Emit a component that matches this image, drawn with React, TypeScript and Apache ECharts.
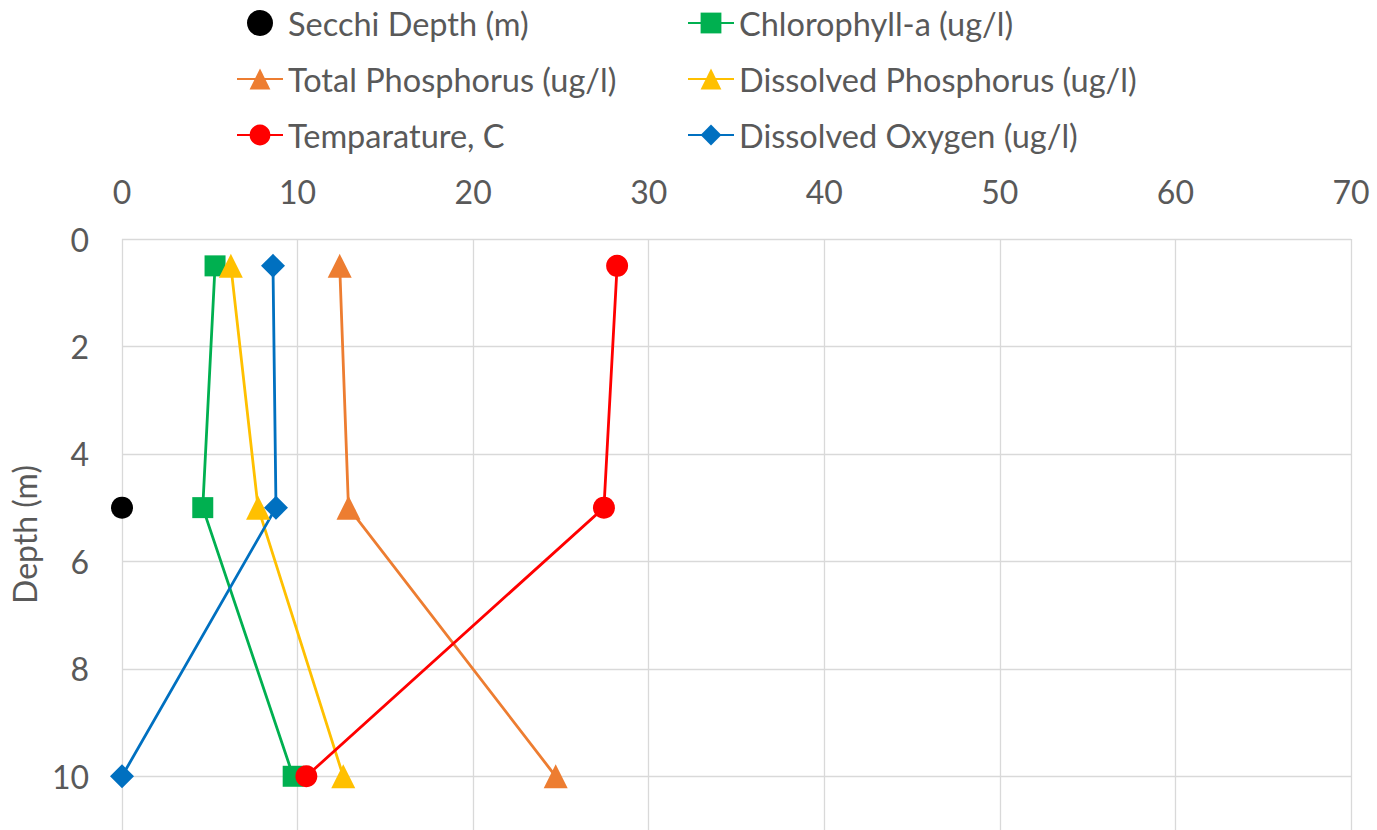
import React, { useEffect, useRef } from "react";
import * as echarts from "echarts";

// Sampling depths (m) for the profile
const depths = [0.5, 5, 10];

// Measured values at each depth
const chlorophyll = [5.3, 4.6, 9.75];
const totalPhosphorus = [12.4, 12.9, 24.7];
const dissolvedPhosphorus = [6.2, 7.75, 12.6];
const temperature = [28.2, 27.45, 10.5];
const dissolvedOxygen = [8.6, 8.77, 0.0];

// Secchi disk reading: a single point
const secchiValue = [0];
const secchiDepth = [5];

const leftLegend = ["Secchi Depth (m)", "Total Phosphorus (ug/l)", "Temparature, C"];
const rightLegend = ["Chlorophyll-a (ug/l)", "Dissolved Phosphorus (ug/l)", "Dissolved Oxygen (ug/l)"];

const FONT = "Lato, 'Open Sans', sans-serif";
const TEXT = "#595959";
const GRID_LINE = "#D9D9D9";

const pair = (vals: number[], ds: number[]) => vals.map((v, i) => [v, ds[i]]);

const lineSeries = (name: string, vals: number[], color: string, symbol: string, size: number) => ({
  name,
  type: "line",
  data: pair(vals, depths),
  symbol,
  symbolSize: size,
  itemStyle: { color },
  lineStyle: { color, width: 2.8 },
});

export default function App() {
  const ref = useRef<HTMLDivElement>(null);

  useEffect(() => {
    if (!ref.current) return;
    const chart = echarts.init(ref.current, undefined, { renderer: "svg" });
    const legendCommon = {
      orient: "vertical",
      top: 0,
      itemWidth: 46,
      itemHeight: 26,
      itemGap: 20,
      textStyle: { fontFamily: FONT, fontSize: 32.5, color: TEXT, lineHeight: 36 },
    };
    chart.setOption({
      animation: false,
      backgroundColor: "#ffffff",
      legend: [
        { ...legendCommon, left: 231, data: leftLegend },
        { ...legendCommon, left: 682, data: rightLegend },
      ],
      grid: { left: 122, right: 26, top: 239, bottom: 0, outerBoundsMode: "none" },
      xAxis: {
        type: "value",
        position: "top",
        min: 0,
        max: 70,
        interval: 10,
        axisLine: { show: false },
        axisTick: { show: false },
        axisLabel: { fontFamily: FONT, fontSize: 32, color: TEXT, margin: 32 },
        splitLine: { show: true, lineStyle: { color: GRID_LINE, width: 1.3 } },
      },
      yAxis: {
        type: "value",
        inverse: true,
        min: 0,
        max: 11,
        interval: 2,
        name: "Depth (m)",
        nameLocation: "middle",
        nameGap: 82,
        nameTextStyle: { fontFamily: FONT, fontSize: 32, color: TEXT },
        axisLine: { show: false },
        axisTick: { show: false },
        axisLabel: { fontFamily: FONT, fontSize: 32, color: TEXT, margin: 33, showMaxLabel: false },
        splitLine: { show: true, showMaxLine: false, lineStyle: { color: GRID_LINE, width: 1.3 } },
      },
      series: [
        {
          name: "Secchi Depth (m)",
          type: "scatter",
          data: pair(secchiValue, secchiDepth),
          symbol: "circle",
          symbolSize: 22,
          itemStyle: { color: "#000000", opacity: 1 },
        },
        lineSeries("Chlorophyll-a (ug/l)", chlorophyll, "#00B050", "rect", 21),
        lineSeries("Total Phosphorus (ug/l)", totalPhosphorus, "#ED7D31", "triangle", 24),
        lineSeries("Dissolved Phosphorus (ug/l)", dissolvedPhosphorus, "#FFC000", "triangle", 24),
        lineSeries("Temparature, C", temperature, "#FF0000", "circle", 22),
        lineSeries("Dissolved Oxygen (ug/l)", dissolvedOxygen, "#0070C0", "diamond", 24),
      ],
    });
    return () => chart.dispose();
  }, []);

  return (
    <div style={{ position: "fixed", left: 0, top: 0, width: 1377, height: 830, overflow: "hidden", background: "#fff" }}>
      <div ref={ref} style={{ width: 1377, height: 830 }} />
    </div>
  );
}
